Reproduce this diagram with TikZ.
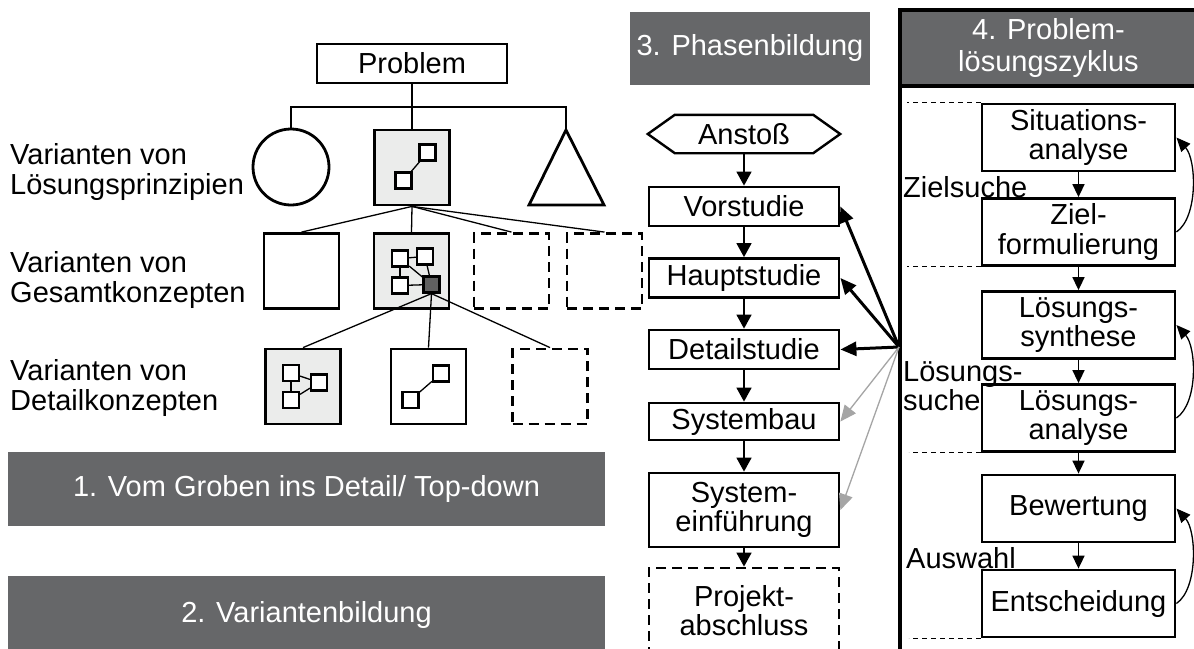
\documentclass[tikz,border=0pt]{standalone}
\usepackage{fontspec}
\setmainfont{Liberation Sans}
\usetikzlibrary{arrows.meta}
\definecolor{barc}{RGB}{102,103,105}
\definecolor{lgray}{RGB}{235,236,235}
\definecolor{dgray}{RGB}{96,96,96}
\definecolor{agray}{RGB}{165,165,165}
\begin{document}
\begin{tikzpicture}[x=1pt,y=-1pt,
  every node/.style={font=\fontsize{29}{29.5}\selectfont, inner sep=0pt},
  lab/.style={anchor=west, align=left},
  tbox/.style={draw, line width=2.8pt, fill=white, minimum width=190pt, minimum height=39pt, align=center},
  rbox/.style={draw, line width=2.8pt, fill=white, minimum width=193pt, minimum height=67pt, align=center},
  bigsq/.style={draw, line width=2.8pt, minimum size=75pt},
  dsq/.style={bigsq, dash pattern=on 10pt off 6pt},
  smsq/.style={draw, line width=2.2pt, fill=white, minimum size=16pt},
  thickl/.style={line width=2.8pt},
  thinl/.style={line width=1.3pt},
  barbox/.style={fill=barc, text=white, align=center},
  farr/.style={line width=1.6pt, -{Triangle[length=14pt,width=15pt]}},
  carr/.style={line width=1.6pt, -{Triangle[length=13pt,width=12pt]}},
  larr/.style={line width=1.3pt, -{Triangle[length=14pt,width=12pt]}},
  conv/.style={line width=3pt, -{Triangle[length=16pt,width=14pt]}},
  gconv/.style={line width=1.3pt, draw=agray, -{Triangle[length=16pt,width=14pt]}},
  sep/.style={line width=1pt, dash pattern=on 5pt off 4pt}
]
\useasboundingbox (0,0) rectangle (1194,648);
\clip (0,0) rectangle (1194,648);
\fill[white] (0,0) rectangle (1194,648);

% ---------- left labels ----------
\node[lab] (l1) at (10,172) {Varianten von\\Lösungsprinzipien};
\node[lab] (l2) at (10,280) {Varianten von\\Gesamtkonzepten};
\node[lab] (l3) at (10,388) {Varianten von\\Detailkonzepten};

% ---------- tree ----------
\node[tbox] (prob) at (412,63.5) {Problem};
\coordinate (hb) at (412,107);
\node[draw, circle, line width=2.8pt, minimum size=76pt] (circ) at (291,167) {};
\node[bigsq, fill=lgray] (sq1) at (412,167.5) {};
\coordinate (tritop) at (566,130);
\draw[thickl] (tritop) -- (604,205) -- (529,205) -- cycle;
\draw[thickl] (prob.south) -- (hb);
\draw[thickl] (circ.north) |- (hb) -| (tritop);
\draw[thickl] (hb) -- (sq1.north);
\node[smsq] (s1a) at (427.5,152.5) {};
\node[smsq] (s1b) at (403.5,180.5) {};
\draw[thinl] (s1b) -- (s1a);

% row 2
\node[bigsq] (r2a) at (301.5,271) {};
\node[bigsq, fill=lgray] (r2b) at (411.5,271) {};
\node[dsq] (r2c) at (511.5,271) {};
\node[dsq] (r2d) at (604.5,271) {};
\foreach \t in {r2a,r2b,r2c,r2d} \draw[thinl] (sq1.south) -- (\t.north);
\node[smsq] (ga) at (400,258.5) {};
\node[smsq] (gb) at (425,256.5) {};
\node[smsq] (gc) at (400,285.5) {};
\node[smsq, fill=dgray] (gd) at (431.5,284.5) {};
\draw[thinl] (ga) -- (gb);
\draw[thinl] (ga) -- (gc);
\draw[thinl] (ga) -- (gd);
\draw[thinl] (gb) -- (gd);
\draw[thinl] (gc) -- (gd);

% row 3
\node[bigsq, fill=lgray] (r3a) at (303,386.5) {};
\node[bigsq] (r3b) at (428.5,386.5) {};
\node[dsq] (r3c) at (550,386.5) {};
\foreach \t in {r3a,r3b,r3c} \draw[thinl] (gd.south) -- (\t.north);
\node[smsq] (ea) at (291,373) {};
\node[smsq] (eb) at (319,382.5) {};
\node[smsq] (ec) at (291,400) {};
\draw[thinl] (ea) -- (eb);
\draw[thinl] (ea) -- (ec);
\draw[thinl] (ec) -- (eb);
\node[smsq] (fa) at (441,373.5) {};
\node[smsq] (fb) at (410.5,400) {};
\draw[thinl] (fb) -- (fa);

% bars
\node[barbox, minimum width=597pt, minimum height=74pt] (bar1) at (306.5,489) {1. Vom Groben ins Detail/ Top-down};
\node[barbox, minimum width=597pt, minimum height=78pt] (bar2) at (306.5,615) {2. Variantenbildung};
\node[barbox, minimum width=240pt, minimum height=73pt] (bar3) at (750,48.5) {3. Phasenbildung};

% ---------- phases ----------
\node[minimum width=192pt, minimum height=38pt] (anst) at (744,134) {Anstoß};
\draw[line width=2.4pt] (anst.west) -- ([xshift=27pt]anst.north west) -- ([xshift=-27pt]anst.north east) -- (anst.east) -- ([xshift=-27pt]anst.south east) -- ([xshift=27pt]anst.south west) -- cycle;
\node[tbox] (vor) at (744,206.5) {Vorstudie};
\node[tbox] (haupt) at (744,278) {Hauptstudie};
\node[tbox] (det) at (744,349.5) {Detailstudie};
\node[tbox, minimum height=37pt] (sysb) at (744,421.5) {Systembau};
\node[tbox, minimum height=74pt] (syse) at (744,510) {System-\\einführung};
\node[tbox, dash pattern=on 10pt off 6pt, minimum height=85pt] (proj) at (744,610.5) {Projekt-\\abschluss};
\draw[farr] (anst) -- (vor);
\draw[farr] (vor) -- (haupt);
\draw[farr] (haupt) -- (det);
\draw[farr] (det) -- (sysb);
\draw[farr] (sysb) -- (syse);
\draw[farr] (syse) -- (proj);

% ---------- problem solving cycle ----------
\draw[line width=3.2pt] (900,670) -- (900,10) -- (1210,10);
\node[barbox, draw=black, line width=3.2pt, minimum width=297pt, minimum height=76pt,
      font=\fontsize{29}{32}\selectfont] (h4) at (1048.5,48) {4. Problem-\\lösungszyklus};
\node[rbox] (sit) at (1078.5,137.5) {Situations-\\analyse};
\node[rbox] (ziel) at (1078.5,232) {Ziel-\\formulierung};
\node[rbox] (lsyn) at (1078.5,325) {Lösungs-\\synthese};
\node[rbox] (lana) at (1078.5,418) {Lösungs-\\analyse};
\node[rbox] (bew) at (1078.5,508.5) {Bewertung};
\node[rbox] (ent) at (1078.5,603.5) {Entscheidung};
\draw[carr] (sit) -- (ziel);
\draw[carr] (ziel) -- (lsyn);
\draw[carr] (lsyn) -- (lana);
\draw[carr] (lana) -- (bew);
\draw[carr] (bew) -- (ent);
\draw[larr] (ziel.east) .. controls +(22,-15) and +(20,22) .. (sit.east);
\draw[larr] (lana.east) .. controls +(22,-15) and +(20,22) .. (lsyn.east);
\draw[larr] (ent.east) .. controls +(22,-15) and +(20,22) .. (bew.east);
\draw[sep] (sit.north west) -- ++(-74,0);
\draw[sep] (ziel.south west) -- ++(-74,0);
\draw[sep] (lana.south west) -- ++(-72,0);
\draw[sep] (ent.south west) -- ++(-72,0);
\node[anchor=base west] (zs) at (903,197) {Zielsuche};
\node[lab] (ls) at (903,386) {Lösungs-\\suche};
\node[anchor=base west] (aw) at (906,568) {Auswahl};

% ---------- converging arrows ----------
\coordinate (P) at (899,347);
\draw[conv] (P) -- (vor.east);
\draw[conv] (P) -- (haupt.east);
\draw[conv] (P) -- (det.east);
\draw[gconv] (P) -- (sysb.east);
\draw[gconv] (P) -- (syse.east);
\end{tikzpicture}
\end{document}
